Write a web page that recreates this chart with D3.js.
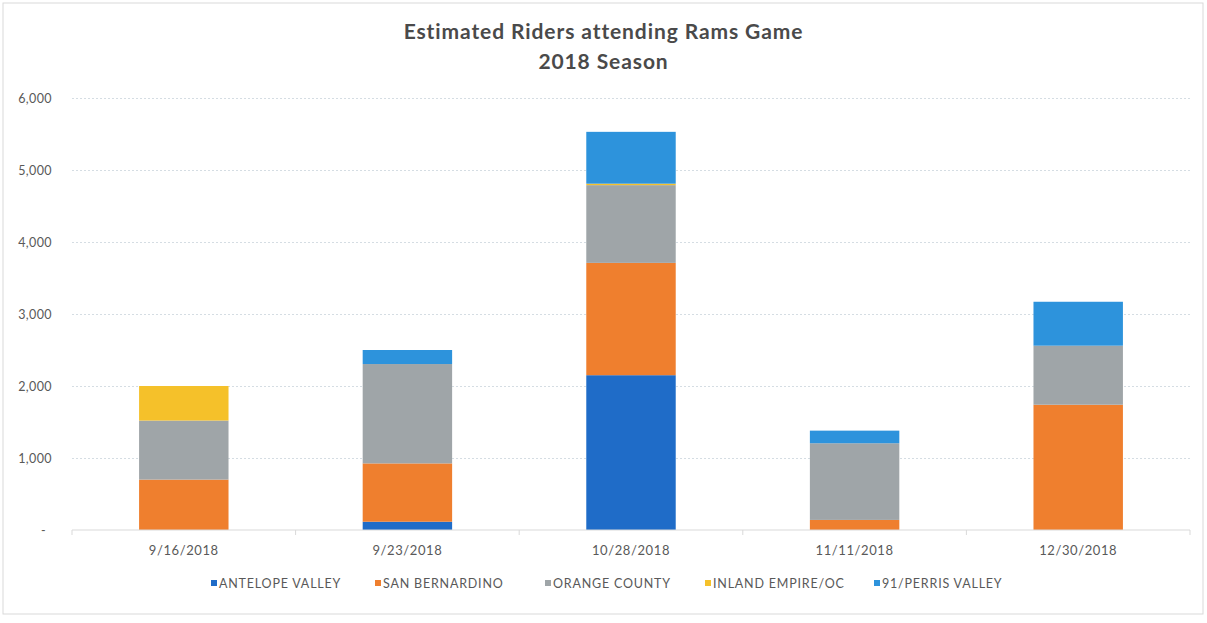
<html>

<head>
  <script src="https://d3js.org/d3.v7.min.js"></script>
  <style>
    body { margin: 0; background: #fff; }
    text { font-family: Lato, "Open Sans", sans-serif; fill: #595959; }
    .gridlines .domain { display: none; }
    .gridlines line { stroke: #d5dde3; stroke-dasharray: 2, 2; }
  </style>
</head>

<body>
  <svg width="1207" height="623" id="chart"></svg>
  <script>
    const dates = ["9/16/2018", "9/23/2018", "10/28/2018", "11/11/2018", "12/30/2018"];
    const regions = ["ANTELOPE VALLEY", "SAN BERNARDINO", "ORANGE COUNTY", "INLAND EMPIRE/OC", "91/PERRIS VALLEY"];
    const antelopeValley = [0, 115, 2150, 0, 0];
    const sanBernardino = [700, 810, 1560, 140, 1740];
    const orangeCounty = [820, 1380, 1080, 1065, 820];
    const inlandEmpire = [480, 0, 20, 0, 0];
    const perrisValley = [0, 195, 720, 175, 610];
    const yTicks = [0, 1000, 2000, 3000, 4000, 5000, 6000];
    const colors = ["#1f6cc8", "#ef7f2e", "#9fa5a8", "#f5c12a", "#2d93dc"];

    const seriesValues = [antelopeValley, sanBernardino, orangeCounty, inlandEmpire, perrisValley];
    const rows = dates.map((d, i) => {
      const r = { date: d };
      regions.forEach((name, j) => r[name] = seriesValues[j][i]);
      return r;
    });

    const svg = d3.select("#chart");
    const width = +svg.attr("width");
    const height = +svg.attr("height");
    const margin = { top: 98, right: 17, bottom: 93, left: 72 };

    // chart frame
    svg.append("rect")
      .attr("x", 3).attr("y", 3)
      .attr("width", width - 7).attr("height", height - 12)
      .attr("fill", "none").attr("stroke", "#d9d9d9");

    const x = d3.scaleBand().domain(dates)
      .range([margin.left, width - margin.right])
      .paddingInner(0.6).paddingOuter(0.3);
    const y = d3.scaleLinear().domain([0, 6000]).range([height - margin.bottom, margin.top]);

    svg.append("g")
      .attr("class", "gridlines")
      .attr("transform", `translate(${margin.left},0)`)
      .call(d3.axisLeft(y).tickValues(yTicks.slice(1)).tickSize(-(width - margin.left - margin.right)).tickFormat(""));

    const stack = d3.stack().keys(regions)(rows);

    svg.append("g").selectAll("g")
      .data(stack)
      .join("g")
      .attr("fill", (d, i) => colors[i])
      .selectAll("rect")
      .data(d => d)
      .join("rect")
      .attr("x", d => x(d.data.date))
      .attr("y", d => y(d[1]))
      .attr("height", d => y(d[0]) - y(d[1]))
      .attr("width", x.bandwidth());

    // y axis labels
    const yAxis = svg.append("g")
      .attr("transform", `translate(${margin.left - 17},0)`)
      .call(d3.axisLeft(y).tickValues(yTicks).tickSize(0)
        .tickFormat(d => d === 0 ? "-" : d3.format(",")(d)));
    yAxis.select(".domain").remove();
    yAxis.selectAll("text").attr("font-size", 12.5).attr("letter-spacing", 0.4)
      .attr("dx", d => d === 0 ? -6 : 0);

    // x axis
    const xAxis = svg.append("g")
      .attr("transform", `translate(0,${y(0)})`);
    xAxis.append("line")
      .attr("x1", margin.left).attr("x2", width - margin.right)
      .attr("stroke", "#d9d9d9");
    const bounds = dates.map(d => x(d) - x.step() * x.paddingInner() / 2);
    bounds.push(width - margin.right);
    xAxis.selectAll("line.tick")
      .data(bounds)
      .join("line").attr("class", "tick")
      .attr("x1", d => d).attr("x2", d => d)
      .attr("y1", 0).attr("y2", 5)
      .attr("stroke", "#d9d9d9");
    xAxis.selectAll("text")
      .data(dates)
      .join("text")
      .attr("x", d => x(d) + x.bandwidth() / 2)
      .attr("y", 25)
      .attr("text-anchor", "middle")
      .attr("font-size", 13)
      .attr("letter-spacing", 0.6)
      .text(d => d);

    // title
    svg.append("text")
      .attr("x", width / 2).attr("y", 39)
      .attr("text-anchor", "middle").attr("font-size", 21)
      .attr("font-weight", "bold").attr("letter-spacing", 0.9)
      .style("fill", "#4a4a4a")
      .text("Estimated Riders attending Rams Game");
    svg.append("text")
      .attr("x", width / 2).attr("y", 69)
      .attr("text-anchor", "middle").attr("font-size", 21)
      .attr("font-weight", "bold").attr("letter-spacing", 0.9)
      .style("fill", "#4a4a4a")
      .text("2018 Season");

    // legend
    const legendX = [211, 375, 545, 705, 874];
    const legend = svg.append("g").selectAll("g")
      .data(regions)
      .join("g")
      .attr("transform", (d, i) => `translate(${legendX[i]},588)`);
    legend.append("rect")
      .attr("x", 0).attr("y", -8)
      .attr("width", 6).attr("height", 6)
      .attr("fill", (d, i) => colors[i]);
    legend.append("text")
      .attr("x", 8).attr("y", 0)
      .attr("font-size", 12.5)
      .attr("letter-spacing", 0.8)
      .text(d => d);
  </script>
</body>

</html>
